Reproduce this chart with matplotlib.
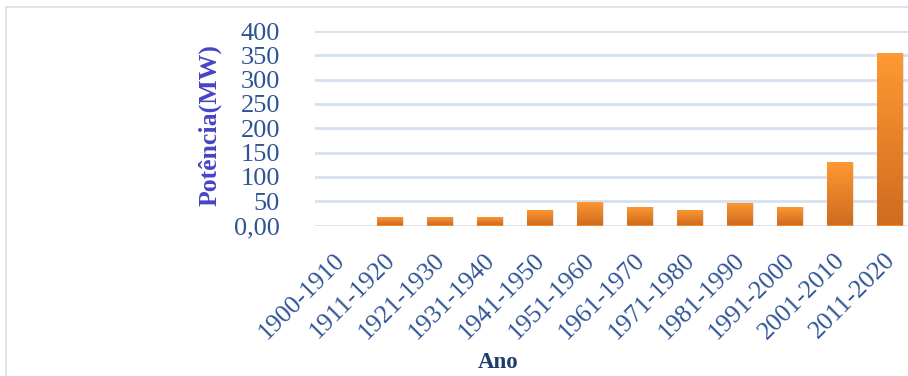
import matplotlib
matplotlib.use("Agg")
import matplotlib.pyplot as plt
import numpy as np
from matplotlib.colors import LinearSegmentedColormap
from matplotlib.patches import Rectangle
from matplotlib.transforms import ScaledTranslation

periods = ['1900-1910', '1911-1920', '1921-1930', '1931-1940', '1941-1950',
           '1951-1960', '1961-1970', '1971-1980', '1981-1990', '1991-2000',
           '2001-2010', '2011-2020']
power = [0, 18, 18, 18, 31, 48, 39, 31, 47, 39, 131, 354]

y_ticks = [0, 50, 100, 150, 200, 250, 300, 350, 400]
y_tick_labels = ['0,00', '50', '100', '150', '200', '250', '300', '350', '400']

plt.rcParams['font.family'] = ['Liberation Serif', 'DejaVu Serif']

fig = plt.figure(figsize=(9.08, 3.76), dpi=100)

# light frame around the chart area (cut off on the right and bottom)
fig.patches.append(Rectangle((6 / 908, -0.1), 1.2, (376 - 7) / 376 + 0.1,
                             transform=fig.transFigure, fill=False,
                             edgecolor='#D5DFEA', linewidth=1.2))

ax = fig.add_axes([314.7 / 908, (376 - 225.5) / 376, 600 / 908, 194.5 / 376])

x = np.arange(len(periods))
bars = ax.bar(x, power, width=0.52, color='#F08A2A', zorder=3)

# gradient fill on each bar, lighter on top
cmap = LinearSegmentedColormap.from_list('bar', ['#D06B1F', '#FF9933'])
grad = np.linspace(0, 1, 100).reshape(-1, 1)
for b in bars:
    h = b.get_height()
    if h <= 0:
        continue
    x0 = b.get_x()
    w = b.get_width()
    # soft shadow
    ax.add_patch(Rectangle((x0 + 0.03, -1.5), w, h, color='#999999', alpha=0.25,
                           zorder=2, linewidth=0))
    im = ax.imshow(grad, cmap=cmap, origin='lower', aspect='auto',
                   extent=[x0, x0 + w, 0, h], zorder=4)
    im.set_clip_path(b)

ax.set_xlim(-0.5, len(periods) - 0.5)
ax.set_ylim(0, 400)

ax.set_yticks(y_ticks)
ax.set_yticklabels(y_tick_labels)
ax.yaxis.grid(True, color='#D6E0EE', linewidth=2, zorder=0)
ax.set_axisbelow(True)

ax.set_xticks(x)
ax.set_xticklabels(periods, rotation=45, ha='right', rotation_mode='anchor')

for s in ax.spines.values():
    s.set_visible(False)

ax.tick_params(axis='y', length=0, pad=25, labelsize=19, labelcolor='#2F5496')
ax.tick_params(axis='x', length=0, pad=17, labelsize=18.5, labelcolor='#2F5496')

# nudge the rotated labels a little to the left
shift = ScaledTranslation(-6 / 100, 0, fig.dpi_scale_trans)
for lbl in ax.get_xticklabels():
    lbl.set_transform(lbl.get_transform() + shift)

ax.set_ylabel('Potência(MW)', fontsize=18.5, fontweight='bold', color='#4545C6')
ax.yaxis.set_label_coords(-0.155, 0.515)
ax.set_xlabel('Ano', fontsize=16.5, fontweight='bold', color='#1F3B6B')
ax.xaxis.set_label_coords(0.305, -0.648)

fig.savefig('out.png', dpi=100)
